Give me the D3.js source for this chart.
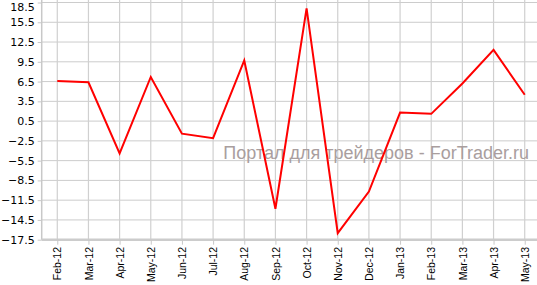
<!DOCTYPE html>
<html><head><meta charset="utf-8">
<script src="https://cdn.jsdelivr.net/npm/d3@7"></script>
<style>html,body{margin:0;padding:0;background:#fff;overflow:hidden}</style>
</head><body>
<svg id="c" width="537" height="285"></svg>
<script>
const categories = ["Feb-12","Mar-12","Apr-12","May-12","Jun-12","Jul-12","Aug-12","Sep-12","Oct-12","Nov-12","Dec-12","Jan-13","Feb-13","Mar-13","Apr-13","May-13"];
const values = [6.6, 6.4, -4.4, 7.2, -1.4, -2.1, 9.7, -12.8, 17.6, -16.5, -10.2, 1.8, 1.6, 6.2, 11.3, 4.5];
const yTicks = [18.5, 15.5, 12.5, 9.5, 6.5, 3.5, 0.5, -2.5, -5.5, -8.5, -11.5, -14.5, -17.5];
const watermark = "Портал для трейдеров - ForTrader.ru";

const svg = d3.select("#c");
const pLeft = 41.7, pRight = 540.3, pTop = 2.5, pBottom = 239.7;
const x = d3.scalePoint().domain(categories).range([pLeft, pRight]).padding(0.5);
const y = d3.scaleLinear().domain([-17.5, 18.5]).range([pBottom, pTop]);

// horizontal grid
svg.append("g").selectAll("line").data(yTicks).join("line")
  .attr("x1", pLeft).attr("x2", 537)
  .attr("y1", d => y(d)).attr("y2", d => y(d))
  .attr("stroke", "#cccccc").attr("stroke-width", 1);
// vertical grid
svg.append("g").selectAll("line").data(categories).join("line")
  .attr("x1", d => x(d)).attr("x2", d => x(d))
  .attr("y1", 0).attr("y2", pBottom)
  .attr("stroke", "#d0d0d0").attr("stroke-width", 1.2);

// watermark
svg.append("text").text(watermark)
  .attr("x", 529).attr("y", 158.7).attr("text-anchor", "end")
  .attr("font-family", "Liberation Sans, Arial, sans-serif").attr("font-size", 18)
  .attr("fill", "#a99e9e");

// y axis
const yAxis = d3.axisLeft(y).tickValues(yTicks).tickFormat(d3.format(".1f")).tickSize(4).tickPadding(3);
const gy = svg.append("g").attr("transform", `translate(${pLeft},0)`).call(yAxis);
gy.select(".domain").attr("stroke", "#c8c8c8").attr("stroke-width", 1.5).attr("d", `M0,0V${pBottom}`);
gy.selectAll(".tick line").attr("stroke", "#c8c8c8");
gy.selectAll(".tick text").attr("font-family", "DejaVu Sans, Verdana, sans-serif").attr("font-size", 11).attr("fill", "#000")
  .attr("y", d => Math.max(0, 7 - y(d)));

// x axis
const xAxis = d3.axisBottom(x).tickSize(5).tickPadding(3);
const gx = svg.append("g").attr("transform", `translate(0,${pBottom})`).call(xAxis);
gx.select(".domain").attr("stroke", "#cccccc").attr("stroke-width", 2.5).attr("d", `M${pLeft},0H537`);
gx.selectAll(".tick line").attr("stroke", "#c8c8c8");
gx.selectAll(".tick text").attr("font-family", "Liberation Sans, Arial, sans-serif").attr("font-size", 10.5).attr("fill", "#000")
  .attr("transform", "rotate(-90)").attr("text-anchor", "end")
  .attr("x", -7.3).attr("y", 0).attr("dy", "0.35em");

// line
const line = d3.line().x((d, i) => x(categories[i])).y(d => y(d));
svg.append("path").datum(values).attr("d", line)
  .attr("fill", "none").attr("stroke", "#ff0000").attr("stroke-width", 2).attr("stroke-linejoin", "miter");
</script>
</body></html>
